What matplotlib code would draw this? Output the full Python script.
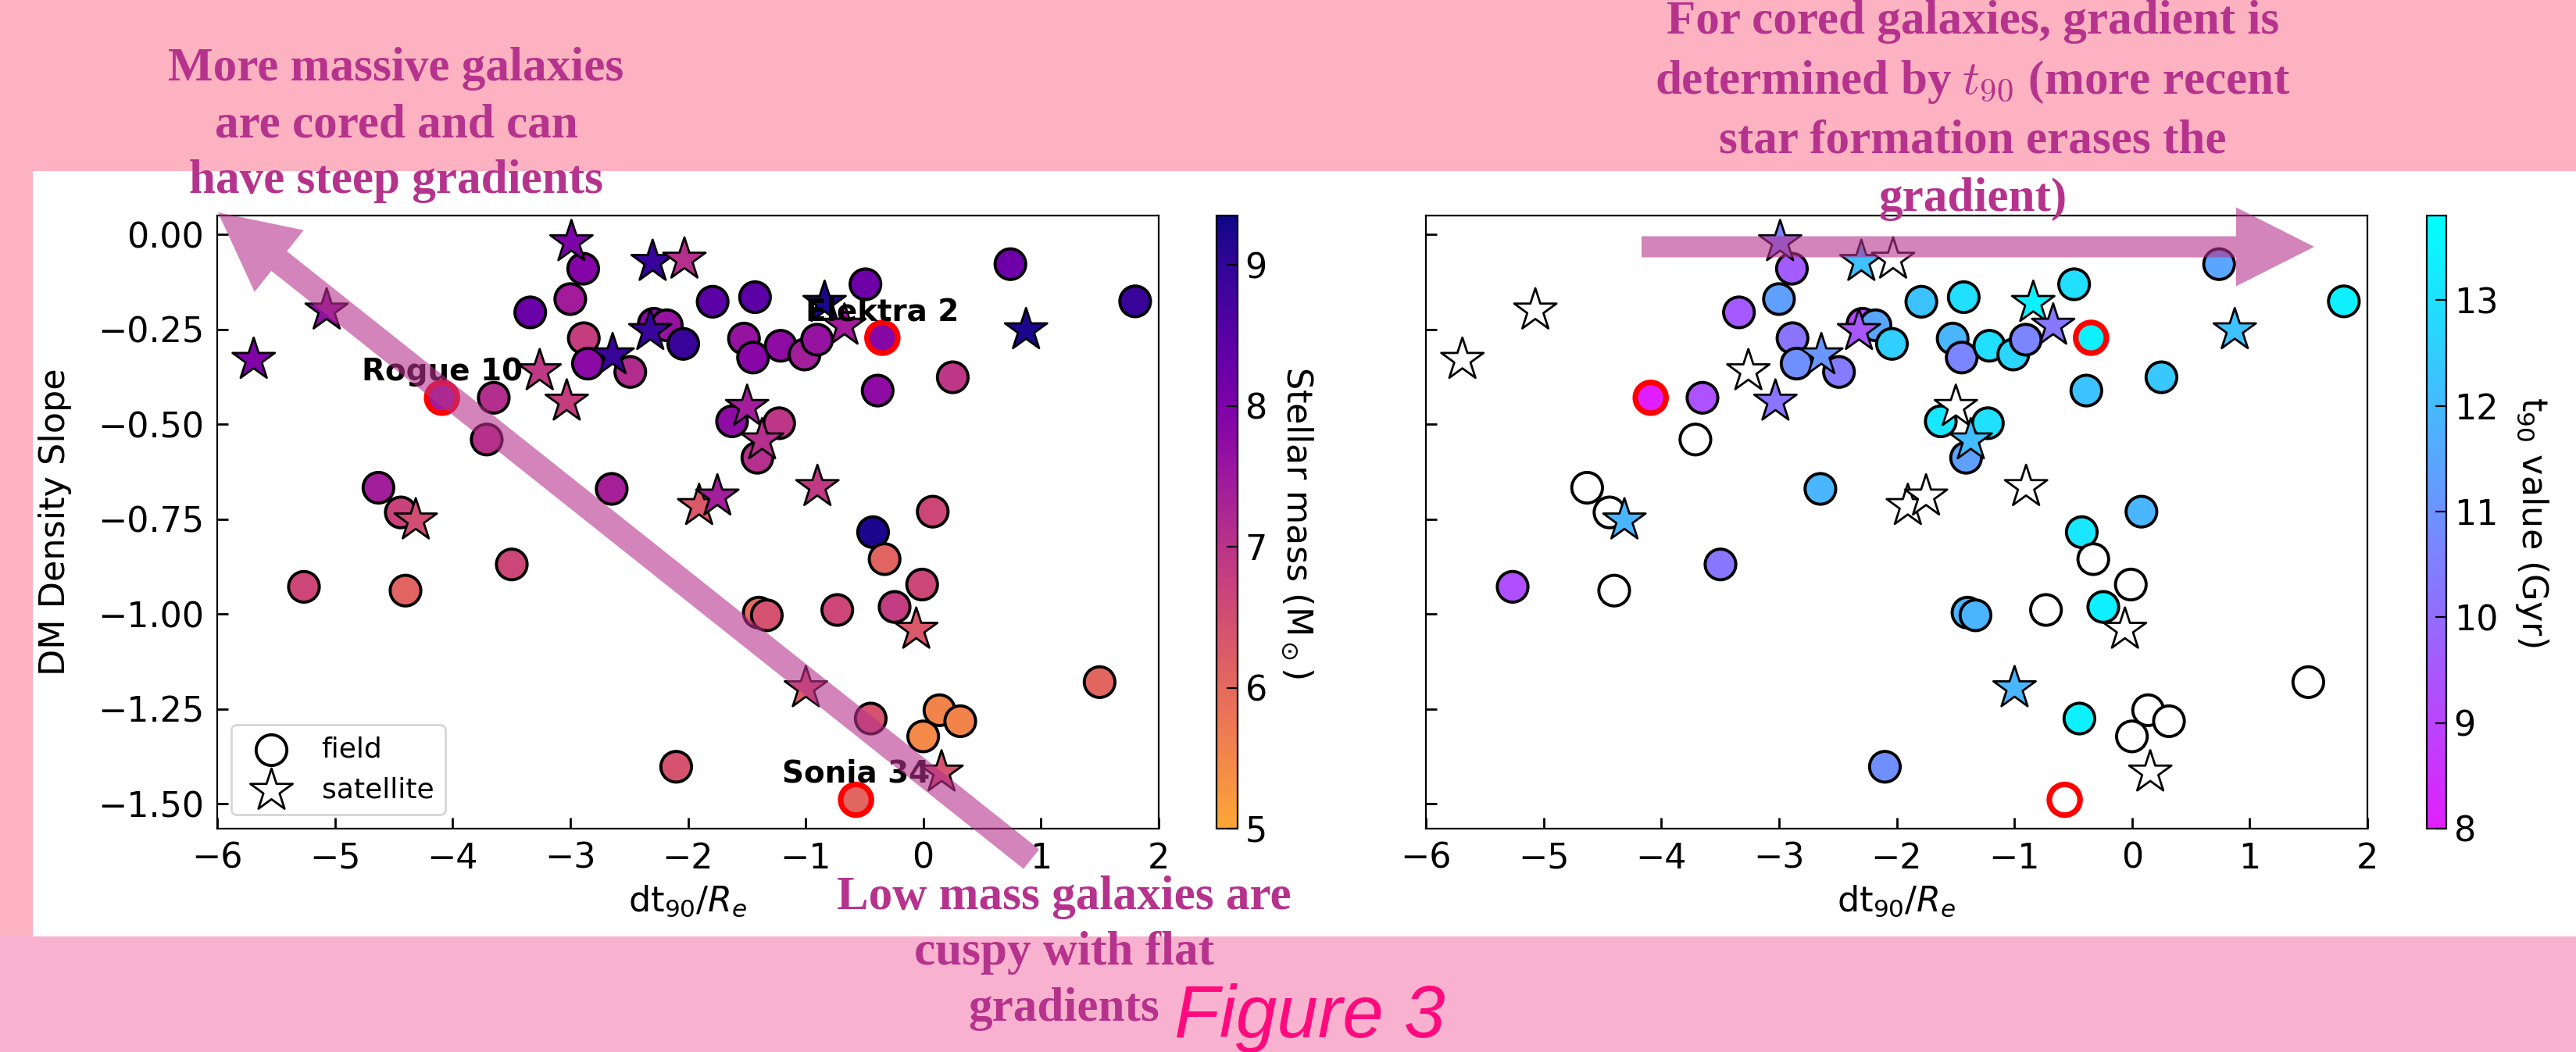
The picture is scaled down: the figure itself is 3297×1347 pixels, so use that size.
import numpy as np
import matplotlib
matplotlib.use("Agg")
import matplotlib.pyplot as plt
from matplotlib.colors import ListedColormap, Normalize
from matplotlib.cm import ScalarMappable
from matplotlib.patches import FancyArrow, Rectangle

# ---- values ----
dt90 = [-5.69, -5.07, -4.09, -3.65, -3.71, -3.26, -3.03, -2.99, -2.89, -3.00,
        -3.34, -2.885, -2.85, -2.64, -2.49, -2.30, -2.03, -2.29, -2.18, -2.32,
        -2.04, -1.79, -1.43, -1.524, -1.447, -1.212, -1.009, -0.903, -0.839, -0.67,
        -1.625, -1.497, -1.225, -1.37, -1.41, -4.63, -4.44, -4.313, -2.648, -1.905,
        -1.75, -0.90, -0.492, 0.74, 1.80, 0.873, -0.348, -0.388, 0.25, 0.08,
        -0.427, -0.329, -0.01, -0.244, -0.06, -1.398, -1.33, -0.731, -0.998, -0.447,
        0.137, 0.314, -0.001, 0.155, -0.572, 1.498, -5.263, -4.40, -3.497, -2.10]

slope = [-0.33, -0.20, -0.43, -0.43, -0.54, -0.36, -0.44, -0.02, -0.09, -0.17,
         -0.205, -0.273, -0.34, -0.318, -0.362, -0.072, -0.066, -0.235, -0.239, -0.254,
         -0.288, -0.177, -0.165, -0.274, -0.324, -0.293, -0.316, -0.277, -0.18, -0.24,
         -0.492, -0.454, -0.497, -0.542, -0.588, -0.667, -0.732, -0.753, -0.670, -0.715,
         -0.69, -0.665, -0.131, -0.078, -0.176, -0.252, -0.272, -0.411, -0.376, -0.73,
         -0.784, -0.855, -0.922, -0.981, -1.041, -0.996, -1.003, -0.989, -1.195, -1.275,
         -1.253, -1.282, -1.322, -1.417, -1.489, -1.179, -0.928, -0.938, -0.869, -1.402]

# 1 = satellite (star), 0 = field (circle)
is_satellite = [1, 1, 0, 0, 0, 1, 1, 1, 0, 0,
                0, 0, 0, 1, 0, 1, 1, 0, 0, 1,
                0, 0, 0, 0, 0, 0, 0, 0, 1, 1,
                0, 1, 0, 1, 0, 0, 0, 1, 0, 1,
                1, 1, 0, 0, 0, 1, 0, 0, 0, 0,
                0, 0, 0, 0, 1, 0, 0, 0, 1, 0,
                0, 0, 0, 1, 0, 0, 0, 0, 0, 0]

stellar_mass = [7.95, 7.7, 7.45, 7.12, 7.1, 6.9, 6.8, 8.0, 7.9, 7.45,
                8.26, 6.8, 7.8, 8.9, 7.15, 8.9, 7.1, 7.8, 7.6, 8.9,
                8.9, 8.45, 8.45, 7.6, 7.85, 7.75, 7.4, 7.6, 9.2, 7.45,
                7.75, 7.4, 6.95, 7.1, 7.1, 7.4, 6.7, 6.5, 7.35, 6.3,
                7.4, 6.9, 8.2, 8.2, 8.9, 9.2, 7.85, 7.75, 6.95, 6.63,
                9.2, 6.1, 6.63, 6.85, 6.3, 5.95, 6.4, 6.63, 6.25, 6.4,
                5.55, 5.55, 5.45, 6.4, 6.05, 6.05, 6.63, 6.1, 6.63, 6.4]

nan = np.nan
# t90 only for cored galaxies, nan -> drawn white
t90 = [nan, nan, 8.0, 9.3, nan, nan, 10.2, 10.6, 9.6, 11.35,
       9.55, 10.2, 10.9, 11.1, 10.4, 12.15, nan, 9.0, 11.45, 9.45,
       12.55, 12.25, 12.95, 11.9, 10.65, 12.95, 12.7, 10.65, 13.4, 10.3,
       13.15, nan, 12.95, 12.1, 11.35, nan, nan, 11.9, 11.9, nan,
       nan, nan, 12.95, 11.45, 13.4, 12.2, 13.4, 12.25, 12.35, 11.9,
       13.15, nan, nan, 13.4, nan, 11.85, 11.85, nan, 11.9, 13.4,
       nan, nan, nan, nan, nan, nan, 9.25, nan, 10.25, 10.9]

named = {"Rogue 10": 2, "Elektra 2": 46, "Sonia 34": 64}

W, H, DPI = 3297, 1347, 200
PURPLE = "#B6338D"
TOP_PINK = "#FDB2C2"
BOTTOM_PINK = "#F8B2CF"


def box(x0, y0, x1, y1):
    # pixel box (origin top-left) -> figure fraction rect
    return [x0 / W, 1 - y1 / H, (x1 - x0) / W, (y1 - y0) / H]


mass_cmap = ListedColormap(plt.cm.plasma(np.linspace(0.8, 0.0, 256)))
t90_cmap = ListedColormap(plt.cm.cool(np.linspace(0.88, 0.0, 256)))
mass_norm = Normalize(5, 9.35)
t90_norm = Normalize(8, 13.8)

x = np.array(dt90)
y = np.array(slope)
sat = np.array(is_satellite, dtype=bool)
mass_face = mass_cmap(mass_norm(np.array(stellar_mass)))
t90_arr = np.array(t90)
t90_face = t90_cmap(t90_norm(t90_arr))
t90_face[np.isnan(t90_arr)] = (1, 1, 1, 1)


def draw_panel(ax, face):
    ax.scatter(x[~sat], y[~sat], c=face[~sat], marker="o", s=200,
               edgecolors="k", linewidths=1.4, zorder=2)
    ax.scatter(x[sat], y[sat], c=face[sat], marker="*", s=420,
               edgecolors="k", linewidths=1.0, zorder=2)
    idx = list(named.values())
    ax.scatter(x[idx], y[idx], c=face[idx], marker="o", s=200,
               edgecolors="red", linewidths=2.6, zorder=3)
    ax.set_xlim(-6, 2)
    ax.set_ylim(-1.565, 0.05)
    ax.set_yticks(np.arange(-1.5, 0.01, 0.25))
    ax.yaxis.set_major_formatter("{x:.2f}")
    ax.tick_params(direction="in", length=5, width=1, labelsize=16, pad=6,
                   top=False, right=False)
    ax.set_xlabel(r"dt$_{90}$/$R_e$", fontsize=16)


fig = plt.figure(figsize=(W / DPI, H / DPI), dpi=DPI)

# slide background
fig.add_artist(Rectangle((0, 1 - 219 / H), 1, 219 / H, transform=fig.transFigure,
                         color=TOP_PINK, lw=0, zorder=-10))
fig.add_artist(Rectangle((0, 148 / H), 42 / W, (1199 - 219) / H, transform=fig.transFigure,
                         color=TOP_PINK, lw=0, zorder=-10))
fig.add_artist(Rectangle((0, 0), 1, 148 / H, transform=fig.transFigure,
                         color=BOTTOM_PINK, lw=0, zorder=-10))

ax1 = fig.add_axes(box(278, 276, 1483, 1061))
cax1 = fig.add_axes(box(1557, 276, 1584, 1061))
ax2 = fig.add_axes(box(1825, 276, 3030, 1061))
cax2 = fig.add_axes(box(3106, 276, 3131, 1061))

# left: colored by stellar mass
draw_panel(ax1, mass_face)
ax1.set_ylabel("DM Density Slope", fontsize=16, labelpad=12)
for name, i in named.items():
    ax1.text(x[i], y[i] + 0.046, name, ha="center", fontsize=14, fontweight="bold")
ax1.scatter([], [], marker="o", s=200, facecolor="white", edgecolor="k", linewidths=1.4, label="field")
ax1.scatter([], [], marker="*", s=420, facecolor="white", edgecolor="k", linewidths=1.0, label="satellite")
ax1.legend(loc="lower left", fontsize=13)

cb1 = fig.colorbar(ScalarMappable(mass_norm, mass_cmap), cax=cax1)
cb1.set_ticks([5, 6, 7, 8, 9])
cb1.ax.tick_params(direction="in", labelsize=16, length=5)
cb1.set_label(r"Stellar mass (M$_\odot$)", fontsize=16, rotation=270, labelpad=22)

# right: colored by t90
draw_panel(ax2, t90_face)
ax2.tick_params(labelleft=False)

cb2 = fig.colorbar(ScalarMappable(t90_norm, t90_cmap), cax=cax2)
cb2.set_ticks([8, 9, 10, 11, 12, 13])
cb2.ax.tick_params(direction="in", labelsize=16, length=5)
cb2.set_label(r"t$_{90}$ value (Gyr)", fontsize=16, rotation=270, labelpad=24)

# arrows (pixel geometry -> inches)
def arrow(x0, y0, x1, y1, width):
    a = FancyArrow(x0 / DPI, (H - y0) / DPI, (x1 - x0) / DPI, (y0 - y1) / DPI,
                   width=width / DPI, head_width=101 / DPI, head_length=100 / DPI,
                   length_includes_head=True, transform=fig.dpi_scale_trans,
                   color=PURPLE, alpha=0.6, lw=0, zorder=2)
    fig.add_artist(a)

arrow(1320, 1100, 279, 272, 32)
arrow(2101, 316, 2962, 316, 27)

# annotations
def note(lines, cx, baselines):
    for line, b in zip(lines, baselines):
        fig.text(cx / W, 1 - b / H, line, ha="center", va="baseline", color=PURPLE,
                 fontsize=22, fontweight="bold", family="Liberation Serif",
                 math_fontfamily="cm", zorder=4)

note(["More massive galaxies", "are cored and can", "have steep gradients"],
     507, [103, 175, 247])
note(["For cored galaxies, gradient is", r"determined by $t_{90}$ (more recent",
      "star formation erases the", "gradient)"],
     2525, [43, 120, 196, 270])
note(["Low mass galaxies are", "cuspy with flat", "gradients"],
     1362, [1164, 1235, 1307])

fig.text(1676 / W, 1 - 1328 / H, "Figure 3", ha="center", va="baseline",
         fontsize=34, style="italic", family="Liberation Sans", color="#FF0A7E", zorder=4)

fig.savefig("out.png", dpi=DPI)
